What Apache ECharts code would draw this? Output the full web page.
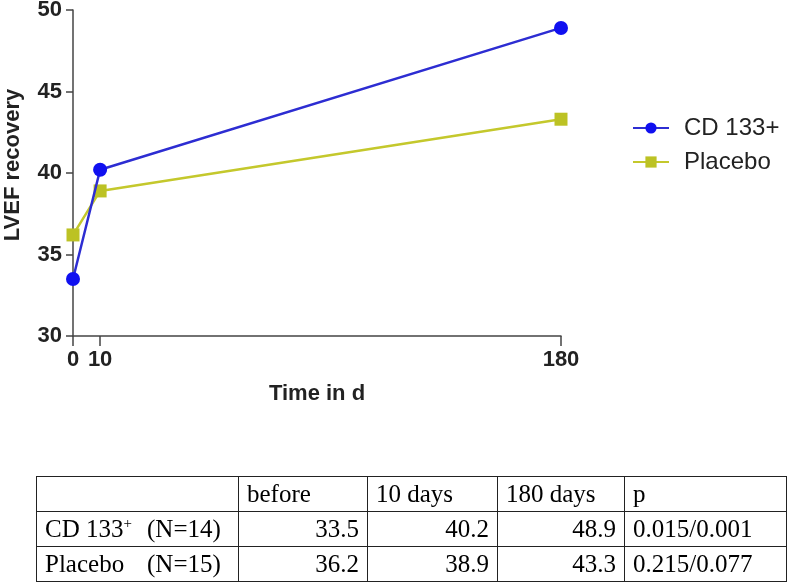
<!DOCTYPE html>
<html>
<head>
<meta charset="utf-8">
<script src="https://cdn.jsdelivr.net/npm/echarts@6/dist/echarts.min.js"></script>
<style>
  html, body { margin: 0; padding: 0; background: #fff; }
  #wrap { position: relative; width: 789px; height: 583px; overflow: hidden; }
  #chart { position: absolute; left: 0; top: 0; width: 789px; height: 583px; }
  #tbl { position: absolute; left: 36px; top: 476px; border-collapse: collapse; table-layout: fixed;
         font-family: "Liberation Serif", "DejaVu Serif", serif; font-size: 25px; color: #000; }
  #tbl td { border: 1.5px solid #222; padding: 0 8px; height: 34px; line-height: 34px; white-space: nowrap; overflow: visible; }
  #tbl td.num { text-align: right; }
  .g1 { display: inline-block; width: 102px; }
  sup { font-size: 15px; line-height: 0; vertical-align: 9px; }
</style>
</head>
<body>
<div id="wrap">
  <div id="chart"></div>
  <table id="tbl"></table>
</div>
<script>
// ---- data ----
var timePoints = [0, 10, 180];
var cd133Values = [33.5, 40.2, 48.9];
var placeboValues = [36.2, 38.9, 43.3];
var seriesNames = ['CD 133+', 'Placebo'];
var yTicks = [30, 35, 40, 45, 50];

var tableHeader = ['', 'before', '10 days', '180 days', 'p'];
var tableGroupNames = ['CD 133<sup>+</sup>', 'Placebo'];
var tableGroupN = ['(N=14)', '(N=15)'];
var tableCd133 = ['33.5', '40.2', '48.9', '0.015/0.001'];
var tablePlacebo = ['36.2', '38.9', '43.3', '0.215/0.077'];

// ---- table ----
var colEdges = [36, 238, 367, 497, 624, 786];
var tbl = document.getElementById('tbl');
var colgroup = document.createElement('colgroup');
for (var i = 0; i < colEdges.length - 1; i++) {
  var col = document.createElement('col');
  col.style.width = (colEdges[i + 1] - colEdges[i]) + 'px';
  colgroup.appendChild(col);
}
tbl.appendChild(colgroup);
tbl.style.width = (colEdges[colEdges.length - 1] - colEdges[0]) + 'px';
function makeRow(cells, isHeader) {
  var tr = document.createElement('tr');
  cells.forEach(function (c, i) {
    var td = document.createElement('td');
    td.innerHTML = c;
    if (!isHeader && i > 0 && i < 4) td.className = 'num';
    tr.appendChild(td);
  });
  tbl.appendChild(tr);
}
makeRow(tableHeader, true);
makeRow(['<span class="g1">' + tableGroupNames[0] + '</span>' + tableGroupN[0]].concat(tableCd133), false);
makeRow(['<span class="g1">' + tableGroupNames[1] + '</span>' + tableGroupN[1]].concat(tablePlacebo), false);

// ---- chart ----
function pairs(xs, ys) { return xs.map(function (x, i) { return [x, ys[i]]; }); }
var blue = '#2d2dd2';
var yellow = '#c4c82c';
var font = 'Liberation Sans, Arial, sans-serif';
var chart = echarts.init(document.getElementById('chart'), null, { renderer: 'canvas' });
chart.setOption({
  animation: false,
  textStyle: { fontFamily: font },
  grid: { left: 73, right: 228, top: 10, bottom: 247, containLabel: false, outerBoundsMode: 'none' },
  legend: {
    orient: 'vertical', left: 627, top: 111, itemWidth: 36, itemHeight: 14, itemGap: 10,
    textStyle: { fontSize: 24, color: '#222', fontFamily: font, padding: [0, 0, 0, 10] },
    data: seriesNames
  },
  xAxis: {
    type: 'value', min: 0, max: 180,
    name: 'Time in d', nameLocation: 'middle', nameGap: 47,
    nameTextStyle: { fontSize: 22, fontWeight: 'bold', color: '#222' },
    axisLine: { show: true, onZero: false, lineStyle: { color: '#444', width: 1.5 } },
    axisTick: { show: true, length: 10, customValues: timePoints, lineStyle: { color: '#444', width: 1.5 } },
    axisLabel: { customValues: timePoints, fontSize: 22, fontWeight: 'bold', color: '#222', margin: 13 },
    splitLine: { show: false }
  },
  yAxis: {
    type: 'value', min: yTicks[0], max: yTicks[yTicks.length - 1], interval: 5,
    name: 'LVEF recovery', nameLocation: 'middle', nameGap: 49, nameRotate: 90,
    nameTextStyle: { fontSize: 22, fontWeight: 'bold', color: '#222', padding: [0, 0, 0, 16] },
    axisLine: { show: true, lineStyle: { color: '#444', width: 1.5 } },
    axisTick: { show: true, length: 7, lineStyle: { color: '#444', width: 1.5 } },
    axisLabel: { fontSize: 22, fontWeight: 'bold', color: '#222', margin: 11 },
    splitLine: { show: false }
  },
  series: [
    {
      name: seriesNames[0], type: 'line', data: pairs(timePoints, cd133Values),
      symbol: 'circle', symbolSize: 14, z: 3,
      lineStyle: { color: blue, width: 2.5 },
      itemStyle: { color: '#1010f0' }
    },
    {
      name: seriesNames[1], type: 'line', data: pairs(timePoints, placeboValues),
      symbol: 'rect', symbolSize: 13, z: 2,
      lineStyle: { color: yellow, width: 2.5 },
      itemStyle: { color: '#bcc224' }
    }
  ]
});
</script>
</body>
</html>
